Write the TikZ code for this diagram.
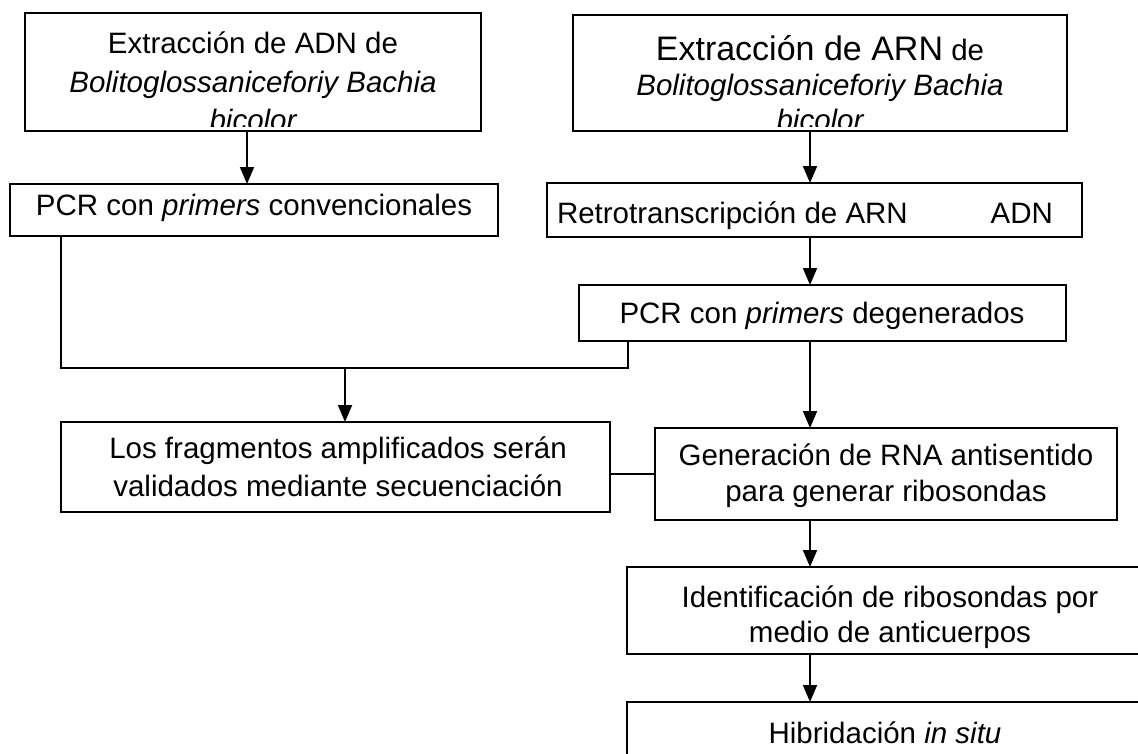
\documentclass[tikz,border=0pt]{standalone}
\usepackage{fontspec}
\setmainfont{Liberation Sans}
\usetikzlibrary{arrows.meta}
\begin{document}
\begin{tikzpicture}[x=1pt,y=-1pt,
  boxstyle/.style={draw, line width=2.3pt, rectangle, inner sep=0pt, outer sep=0pt},
  txt/.style={font=\fontsize{29.5}{38.5}\selectfont, inner sep=0pt, outer sep=0pt, anchor=base},
  conn/.style={line width=1.8pt},
  arr/.style={conn, -{Triangle[length=17pt,width=14pt]}}
]
\useasboundingbox (0,0) rectangle (1138,753);

% boxes
\node[boxstyle, minimum width=456pt, minimum height=118pt] (b1) at (253,72) {};
\node[boxstyle, minimum width=494pt, minimum height=116pt] (b2) at (820,73) {};
\node[boxstyle, minimum width=488pt, minimum height=52pt] (b3) at (254,210) {};
\node[boxstyle, minimum width=535pt, minimum height=54pt] (b4) at (814.5,210) {};
\node[boxstyle, minimum width=487pt, minimum height=56pt] (b5) at (822.5,313) {};
\node[boxstyle, minimum width=549pt, minimum height=90pt] (b6) at (335.5,467) {};
\node[boxstyle, minimum width=462pt, minimum height=92pt] (b7) at (886,474) {};
\node[boxstyle, minimum width=523pt, minimum height=87pt] (b8) at (888.5,610.5) {};
\node[boxstyle, minimum width=523pt, minimum height=88pt] (b9) at (888.5,746) {};

% texts of box 1 (last line cut by the box)
\begin{scope}
\clip (b1.north west) rectangle ([yshift=5pt]b1.south east);
\node[txt] (t1a) at (253,53) {Extracción de ADN de};
\node[txt] (t1b) at (253,92) {\itshape Bolitoglossaniceforiy Bachia};
\node[txt] (t1c) at (253,130) {\itshape bicolor};
\end{scope}

% texts of box 2
\begin{scope}
\clip (b2.north west) rectangle ([yshift=5pt]b2.south east);
\node[txt] (t2a) at (820,60) {{\fontsize{34}{38.5}\selectfont Extracción de ARN} de};
\node[txt] (t2b) at (820,95) {\itshape Bolitoglossaniceforiy Bachia};
\node[txt] (t2c) at (820,130) {\itshape bicolor};
\end{scope}

\node[txt] (t3) at (254,215) {PCR con \textit{primers} convencionales};

\begin{scope}
\clip (b4.north west) rectangle ([yshift=7pt]b4.south east);
\node[txt, anchor=base west] (t4a) at (557,223) {Retrotranscripción de ARN};
\node[txt, anchor=base east] (t4b) at (1053,223) {ADN};
\end{scope}

\node[txt] (t5) at (822,323) {PCR con \textit{primers} degenerados};

\node[txt] (t6a) at (338,458) {Los fragmentos amplificados serán};
\node[txt] (t6b) at (338,496) {validados mediante secuenciación};

\node[txt] (t7a) at (886,465) {Generación de RNA antisentido};
\node[txt] (t7b) at (886,501) {para generar ribosondas};

\node[txt] (t8a) at (890,607) {Identificación de ribosondas por};
\node[txt] (t8b) at (890,642) {medio de anticuerpos};

\node[txt] (t9) at (885,743) {Hibridación \textit{in situ}};

% connectors
\coordinate (lc) at (61,0);
\coordinate (rc) at (810,0);
\coordinate (ac) at (247,0);
\coordinate (jn) at (628,368);
\coordinate (ja) at (345,368);
\coordinate (lk) at (0,474);

\draw[arr] (b1.south -| ac) -- (b3.north -| ac);
\draw[arr] (b2.south -| rc) -- (b4.north -| rc);
\draw[arr] (b4.south -| rc) -- (b5.north -| rc);
\draw[conn] (b3.south -| lc) |- (jn) -- (b5.south -| jn);
\draw[arr] (ja) -- (b6.north -| ja);
\draw[arr] (b5.south -| rc) -- (b7.north -| rc);
\draw[conn] (b6.east |- lk) -- (b7.west |- lk);
\draw[arr] (b7.south -| rc) -- (b8.north -| rc);
\draw[arr] (b8.south -| rc) -- (b9.north -| rc);
\end{tikzpicture}
\end{document}
